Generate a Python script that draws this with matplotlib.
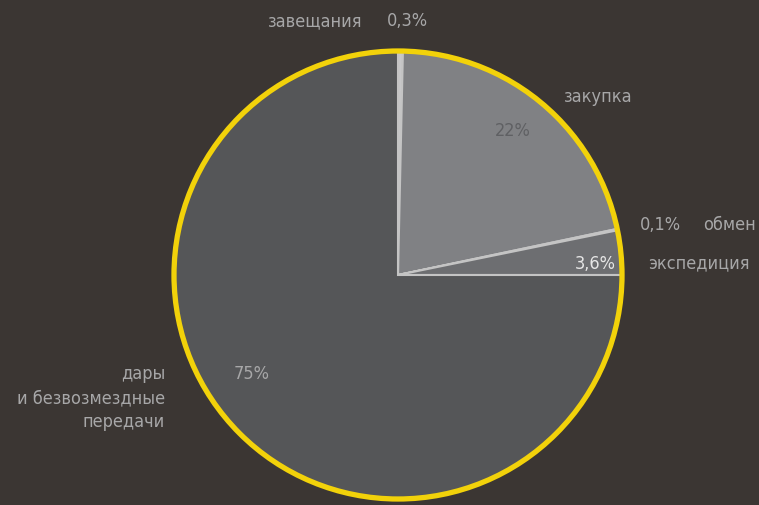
import matplotlib
matplotlib.use('Agg')
import matplotlib.pyplot as plt
from matplotlib.patches import Circle

# wedge sizes (top-right quadrant is squeezed)
categories = ['завещания', 'закупка', 'обмен', 'экспедиция', 'дары\nи безвозмездные\nпередачи']
sizes = [0.35, 21.35, 0.1, 3.2, 75.0]
pct_labels = ['0,3%', '22%', '0,1%', '3,6%', '75%']
colors = ['#c8c8c9', '#808184', '#cfcfcf', '#6d6e71', '#555658']

bg = '#3b3633'
txt = '#a7a7a8'
W, H = 759, 505

fig = plt.figure(figsize=(7.59, 5.05), dpi=100, facecolor=bg)
ax = fig.add_axes([0, 0, 1, 1])
ax.set_facecolor(bg)

cx, cy, r = 398, H - 275, 224

wedges, _ = ax.pie(sizes, colors=colors, startangle=90, counterclock=False,
                   center=(cx, cy), radius=r, frame=True,
                   wedgeprops=dict(edgecolor='#c4c4c4', linewidth=1.5))
ax.set_xlim(0, W)
ax.set_ylim(0, H)
ax.set_aspect('equal')
ax.axis('off')

ax.add_patch(Circle((cx, cy), r, fill=False, edgecolor='#f2d20a', linewidth=3.8, zorder=5))

fs = 13
font = ['DejaVu Sans']

def put(x, y, s, ha='left', color=txt, **kw):
    ax.text(x, H - y, s, ha=ha, va='center', color=color, fontsize=fs,
            family=font, stretch='condensed', **kw)

# outside labels
put(362, 21, categories[0], ha='right')
put(387, 21, pct_labels[0])
put(598, 97, categories[1], ha='center')
put(513, 131, pct_labels[1], ha='center', color='#5f6063')
put(640, 225, pct_labels[2])
put(703, 225, categories[2])
put(616, 264, pct_labels[3], ha='right', color='#e6e6e6')
put(648, 263, categories[3])
put(252, 374, pct_labels[4], ha='center')
put(165, 398, categories[4], ha='right', linespacing=1.4)

fig.savefig('out.png', dpi=100, facecolor=bg)
